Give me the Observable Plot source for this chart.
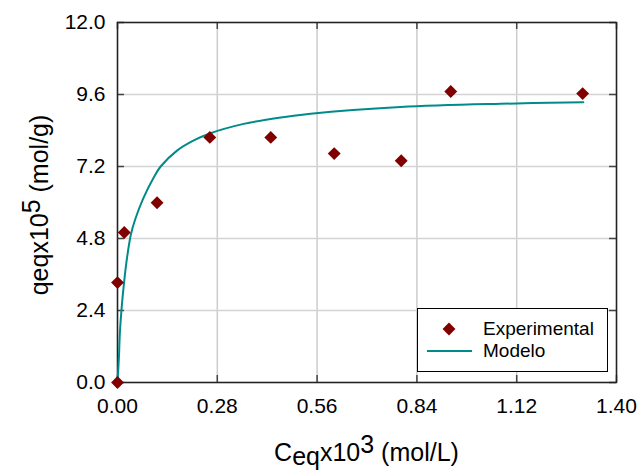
<!DOCTYPE html>
<html><head><meta charset="utf-8">
<script src="https://cdn.jsdelivr.net/npm/d3@7"></script>
<script src="https://cdn.jsdelivr.net/npm/@observablehq/plot@0.6"></script>
<style>body{margin:0;background:#fff} svg{display:block}</style>
</head><body><div id="chart"></div>
<script>
// Experimental points (Ceq x10^3 mol/L, qeq x10^5 mol/g)
const expC = [0, 0, 0.019, 0.111, 0.259, 0.430, 0.608, 0.796, 0.935, 1.305];
const expQ = [0, 3.33, 5.00, 5.99, 8.17, 8.17, 7.63, 7.39, 9.70, 9.63];
// Model curve
const modelC = [0, 0.004, 0.0065, 0.011, 0.018, 0.027, 0.038, 0.050, 0.072, 0.102, 0.121, 0.167, 0.214, 0.261, 0.354, 0.448, 0.542, 0.794, 1.075, 1.307];
const modelQ = [0, 0.84, 1.62, 2.40, 3.29, 4.18, 4.96, 5.45, 6.13, 6.84, 7.20, 7.73, 8.07, 8.31, 8.62, 8.82, 8.96, 9.18, 9.29, 9.34];
const xTicks = [0, 0.28, 0.56, 0.84, 1.12, 1.40];
const xTickLabels = ["0.00", "0.28", "0.56", "0.84", "1.12", "1.40"];
const yTicks = [0, 2.4, 4.8, 7.2, 9.6, 12.0];
const yTickLabels = ["0.0", "2.4", "4.8", "7.2", "9.6", "12.0"];
const legendLabels = ["Experimental", "Modelo"];
const xTitle = ["C", "eq", "x10", "3", " (mol/L)"];
const yTitle = ["qeqx10", "5", " (mol/g)"];

const exp = expC.map((c, i) => ({c, q: expQ[i]}));
const model = modelC.map((c, i) => ({c, q: modelQ[i]}));

const W = 639, H = 470, mL = 117, mR = 23, mT = 22, mB = 88;
const plotW = W - mL - mR, plotH = H - mT - mB;
const tk = 7;
const RED = "#800000", TEAL = "#008b8b";
const tickStyle = {stroke: "#444", strokeWidth: 1.5};

const chart = Plot.plot({
  width: W, height: H,
  marginLeft: mL, marginRight: mR, marginTop: mT, marginBottom: mB,
  style: {fontFamily: "'Liberation Sans', Arial, sans-serif", fontSize: "21px", color: "#000", background: "#fff"},
  x: {domain: [0, 1.4]},
  y: {domain: [0, 12]},
  marks: [
    Plot.ruleX(xTicks, {stroke: "#cccccc", strokeWidth: 1.5}),
    Plot.ruleY(yTicks, {stroke: "#d4d4d4", strokeWidth: 1.5}),
    Plot.tickY(yTicks, {y: d => d, insetRight: plotW - tk, ...tickStyle}),
    Plot.tickY(yTicks, {y: d => d, insetLeft: plotW - tk, ...tickStyle}),
    Plot.tickX(xTicks, {x: d => d, insetTop: plotH - tk, ...tickStyle}),
    Plot.tickX(xTicks, {x: d => d, insetBottom: plotH - tk, ...tickStyle}),
    Plot.frame({stroke: "#222", strokeWidth: 1.5}),
    Plot.axisX(xTicks, {tickSize: 0, tickPadding: 16, label: null, tickFormat: d => xTickLabels[xTicks.indexOf(d)]}),
    Plot.axisY(yTicks, {tickSize: 0, tickPadding: 12, label: null, tickFormat: d => yTickLabels[yTicks.indexOf(d)]}),
    Plot.line(model, {x: "c", y: "q", stroke: TEAL, strokeWidth: 2, curve: "catmull-rom"}),
    Plot.dot(exp, {x: "c", y: "q", symbol: "diamond2", r: 5.8, fill: RED, stroke: "none"})
  ]
});
document.getElementById("chart").appendChild(chart);

const svg = d3.select(chart);
// X axis title
const xl = svg.append("text")
  .attr("x", mL + plotW / 2).attr("y", 461)
  .attr("text-anchor", "middle")
  .style("font-size", "25px").attr("fill", "#000");
xl.append("tspan").text(xTitle[0]);
xl.append("tspan").attr("dy", 4).text(xTitle[1]);
xl.append("tspan").attr("dy", -4).text(xTitle[2]);
xl.append("tspan").attr("dy", -8).text(xTitle[3]);
xl.append("tspan").attr("dy", 8).text(xTitle[4]);
// Y axis title
const yl = svg.append("text")
  .attr("transform", `translate(48,${mT + plotH / 2 + 3}) rotate(-90)`)
  .attr("text-anchor", "middle")
  .style("font-size", "25px").attr("fill", "#000");
yl.append("tspan").text(yTitle[0]);
yl.append("tspan").attr("dy", -8).text(yTitle[1]);
yl.append("tspan").attr("dy", 8).text(yTitle[2]);

// Legend
const lg = svg.append("g").attr("text-anchor", "start");
lg.append("rect").attr("x", 417.5).attr("y", 308.5).attr("width", 190).attr("height", 63)
  .attr("fill", "#fff").attr("stroke", "#000").attr("stroke-width", 1);
lg.append("path")
  .attr("d", d3.symbol(d3.symbolDiamond2, Math.PI * 5.8 * 5.8)())
  .attr("transform", "translate(449,329)").attr("fill", RED);
lg.append("line").attr("x1", 427).attr("x2", 472).attr("y1", 351).attr("y2", 351)
  .attr("stroke", TEAL).attr("stroke-width", 2);
lg.append("text").attr("x", 483).attr("y", 335).attr("text-anchor", "start").style("font-size", "19px").text(legendLabels[0]);
lg.append("text").attr("x", 483).attr("y", 357).attr("text-anchor", "start").style("font-size", "19px").text(legendLabels[1]);
</script></body></html>
